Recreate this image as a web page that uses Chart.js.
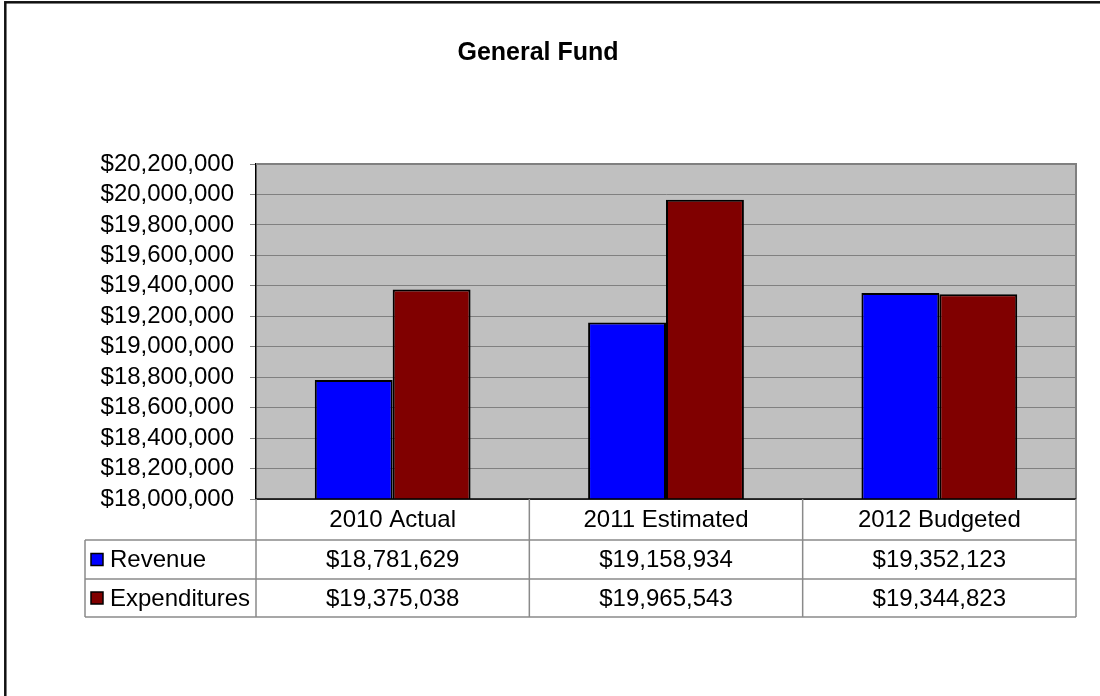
<!DOCTYPE html>
<html>
<head>
<meta charset="utf-8">
<script src="https://cdn.jsdelivr.net/npm/chart.js@4"></script>
<style>
  html, body { margin: 0; padding: 0; background: #fff; }
  canvas { display: block; }
</style>
</head>
<body>
<canvas id="fundo" width="1100" height="696"></canvas>
<script>
const anos = ['2010 Actual', '2011 Estimated', '2012 Budgeted'];
const receitas = [18781629, 19158934, 19352123];
const despesas = [19375038, 19965543, 19344823];
const nomesSeries = ['Revenue', 'Expenditures'];
const coresSeries = ['#0000ff', '#800000'];

const fonteBase = "'Liberation Sans', Arial, sans-serif";

function dinheiro(v) {
  return '$' + Math.round(v).toLocaleString('en-US');
}

// fundo cinza da área do gráfico + moldura externa
const fundoPlugin = {
  id: 'fundo',
  beforeDraw(chart) {
    const { ctx, chartArea: a } = chart;
    ctx.save();
    ctx.fillStyle = '#c0c0c0';
    ctx.fillRect(a.left, a.top, a.right - a.left, a.bottom - a.top);
    ctx.restore();
  },
  afterDraw(chart) {
    const { ctx, chartArea: a } = chart;
    ctx.save();
    // borda cinza em cima e à direita da área
    ctx.strokeStyle = '#808080';
    ctx.lineWidth = 2;
    ctx.beginPath();
    ctx.moveTo(a.left, a.top);
    ctx.lineTo(a.right, a.top);
    ctx.lineTo(a.right, a.bottom);
    ctx.stroke();
    // linha preta da base
    ctx.strokeStyle = '#000';
    ctx.lineWidth = 1.5;
    ctx.beginPath();
    ctx.moveTo(a.left, a.bottom);
    ctx.lineTo(a.right, a.bottom);
    ctx.stroke();
    // moldura de fora
    ctx.strokeStyle = '#111';
    ctx.lineWidth = 2.5;
    ctx.strokeRect(5.3, 2.3, 1200, 900);
    ctx.restore();
  }
};

// tabela de dados embaixo do eixo x
const tabelaPlugin = {
  id: 'tabela',
  afterDraw(chart) {
    const { ctx, chartArea: a, scales } = chart;
    const x = scales.x;
    const larg = (a.right - a.left) / anos.length;
    const linha0 = a.bottom;
    const linhas = [linha0 + 41, linha0 + 80, linha0 + 118];
    const esquerda = 85;

    ctx.save();
    ctx.strokeStyle = '#8a8a8a';
    ctx.lineWidth = 1.5;
    ctx.beginPath();
    // horizontais
    linhas.forEach(y => {
      ctx.moveTo(esquerda, y);
      ctx.lineTo(a.right, y);
    });
    // verticais
    for (let i = 0; i <= anos.length; i++) {
      const xv = a.left + i * larg;
      ctx.moveTo(xv, linha0);
      ctx.lineTo(xv, linhas[2]);
    }
    ctx.moveTo(esquerda, linhas[0]);
    ctx.lineTo(esquerda, linhas[2]);
    ctx.stroke();

    ctx.fillStyle = '#000';
    ctx.font = '24px ' + fonteBase;
    ctx.textAlign = 'center';
    ctx.textBaseline = 'middle';
    anos.forEach((ano, i) => {
      ctx.fillText(ano, x.getPixelForValue(i), (linha0 + linhas[0]) / 2 + 1);
    });

    const series = [receitas, despesas];
    series.forEach((valores, s) => {
      const yMeio = (linhas[s] + linhas[s + 1]) / 2 + 1;
      valores.forEach((v, i) => {
        ctx.textAlign = 'center';
        ctx.fillText(dinheiro(v), x.getPixelForValue(i), yMeio);
      });
      // quadradinho da legenda
      ctx.fillStyle = coresSeries[s];
      ctx.fillRect(91, yMeio - 7, 12, 12);
      ctx.strokeStyle = '#000';
      ctx.lineWidth = 1.5;
      ctx.strokeRect(91, yMeio - 7, 12, 12);
      ctx.fillStyle = '#000';
      ctx.textAlign = 'left';
      ctx.fillText(nomesSeries[s], 110, yMeio);
    });
    ctx.restore();
  }
};

const grafico = new Chart(document.getElementById('fundo'), {
  type: 'bar',
  data: {
    labels: anos,
    datasets: [
      {
        label: nomesSeries[0],
        data: receitas,
        backgroundColor: coresSeries[0],
        borderColor: '#000',
        borderWidth: 2,
        borderSkipped: false
      },
      {
        label: nomesSeries[1],
        data: despesas,
        backgroundColor: coresSeries[1],
        borderColor: '#000',
        borderWidth: 2,
        borderSkipped: false
      }
    ]
  },
  options: {
    responsive: false,
    animation: false,
    devicePixelRatio: 1,
    layout: { padding: { top: 0, right: 24, bottom: 197, left: 0 } },
    datasets: {
      bar: { categoryPercentage: 0.57, barPercentage: 1 }
    },
    scales: {
      x: { display: false },
      y: {
        min: 18000000,
        max: 20200000,
        afterFit(scale) { scale.width = 256; },
        ticks: {
          stepSize: 200000,
          autoSkip: false,
          color: '#000',
          padding: 16,
          font: { family: fonteBase, size: 24 },
          callback: v => dinheiro(v)
        },
        grid: {
          color: '#808080',
          lineWidth: 1,
          tickLength: 6,
          drawOnChartArea: true
        },
        border: { color: '#000', width: 1.5 }
      }
    },
    plugins: {
      legend: { display: false },
      tooltip: { enabled: false },
      title: {
        display: true,
        text: 'General Fund',
        color: '#000',
        font: { family: fonteBase, size: 25, weight: 'bold' },
        padding: { top: 38, bottom: 96 }
      }
    }
  },
  plugins: [fundoPlugin, tabelaPlugin]
});
</script>
</body>
</html>
